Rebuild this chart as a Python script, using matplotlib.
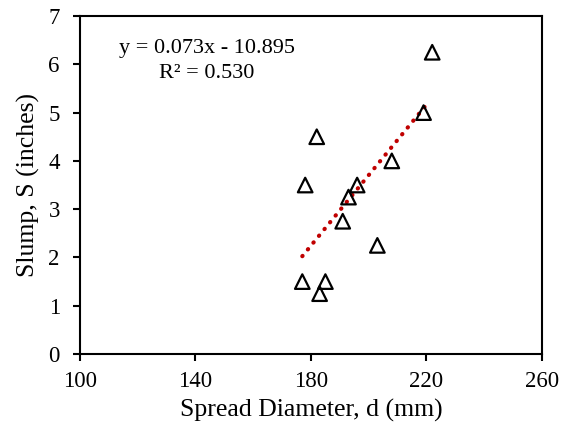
import matplotlib
matplotlib.use("Agg")
import matplotlib.pyplot as plt
import numpy as np

spread_mm = [222, 219, 208, 196, 193, 191, 203, 182, 178, 177, 185, 183]
slump_in = [6.25, 5.0, 4.0, 3.5, 3.25, 2.75, 2.25, 4.5, 3.5, 1.5, 1.5, 1.25]
slope = 0.073
intercept = -10.895
eq_text = "y = 0.073x - 10.895\nR² = 0.530"
xticks = [100, 140, 180, 220, 260]
yticks = [0, 1, 2, 3, 4, 5, 6, 7]

plt.rcParams['font.family'] = ['Liberation Serif', 'DejaVu Serif']

fig = plt.figure(figsize=(5.61, 4.34), dpi=100)
ax = fig.add_axes([0.1426, 0.1843, 0.8234, 0.7787])

xf = np.array([min(spread_mm), 220.5])
ax.plot(xf, slope * xf + intercept, linestyle=(0, (0.1, 2.0)), color='#C00000',
        linewidth=3, dash_capstyle='round', zorder=2)
ax.scatter(spread_mm, slump_in, marker='^', s=110, facecolors='none',
           edgecolors='black', linewidths=1.6, zorder=3)

ax.set_xlim(100, 260)
ax.set_ylim(0, 7)
ax.set_xticks(xticks)
ax.set_yticks(yticks)
ax.tick_params(direction='out', length=5, width=1.5, labelsize=16.5,
               top=False, right=False)
ax.tick_params(axis='x', pad=7)
ax.tick_params(axis='y', pad=9.5)
for s in ax.spines.values():
    s.set_linewidth(1.5)

ax.set_xlabel("Spread Diameter, d (mm)", fontsize=18.5, labelpad=5)
ax.set_ylabel("Slump, S (inches)", fontsize=18.5, labelpad=6)

ax.text(0.275, 0.866, eq_text, transform=ax.transAxes, fontsize=16,
        ha='center', va='center', linespacing=1.45, multialignment='center')

fig.savefig("out.png", dpi=100)
